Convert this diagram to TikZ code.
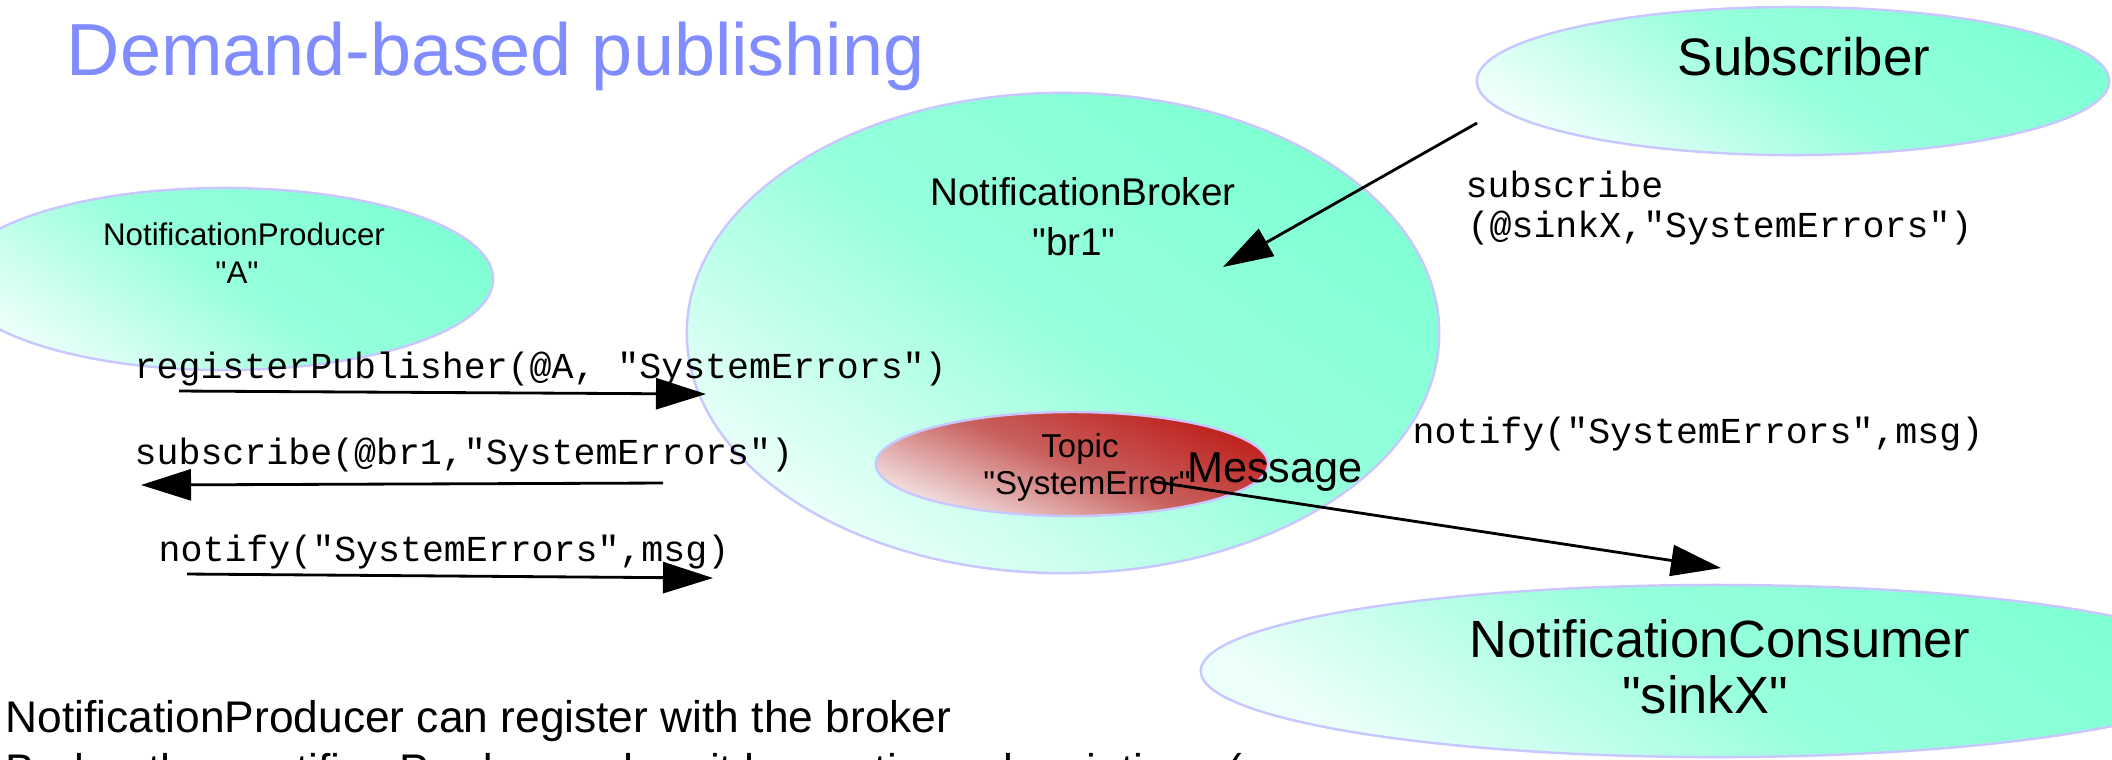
\documentclass[tikz,border=0pt]{standalone}
\usepackage{fontspec}
\setmainfont{Liberation Sans}[Ligatures=TeXOff]
\setmonofont{Liberation Mono}
\usetikzlibrary{positioning, shapes.geometric, arrows.meta}

\definecolor{aqua}{RGB}{127,255,212}
\definecolor{aquapale}{RGB}{236,255,250}
\definecolor{rimblue}{RGB}{200,200,255}
\definecolor{topicred}{RGB}{190,30,26}
\definecolor{topicmid}{RGB}{200,96,94}
\definecolor{topicpale}{RGB}{244,230,230}
\definecolor{titleblue}{RGB}{128,140,255}

\tikzset{
  blob/.style={ellipse, draw=rimblue, line width=0.7pt, inner sep=0pt,
    top color=aqua, bottom color=aquapale, middle color=aqua!78!aquapale,
    shading angle=-35},
  topicblob/.style={blob, top color=topicred, bottom color=topicpale,
    middle color=topicmid, shading angle=-22},
  lbl/.style={anchor=base, inner sep=0pt},
  call/.style={anchor=base west, inner sep=0pt,
    font=\ttfamily\fontsize{10.4}{12}\selectfont},
  rpc/.style={-{Triangle[length=0.5cm, width=0.31cm]}, line width=0.8pt},
}

\begin{document}
\begin{tikzpicture}[x=0.01cm, y=-0.01cm]
    \useasboundingbox (0,0) rectangle (2112,759);
    \clip (0,0) rectangle (2112,759);

    % the parties
    \node[blob, minimum width=5.38cm, minimum height=1.82cm] (producer) at (224,279) {};
    \node[blob, minimum width=7.52cm, minimum height=4.80cm] (broker) at (1063,333) {};
    \node[topicblob, minimum width=3.92cm, minimum height=1.04cm] (topic) at (1072,464) {};
    \node[blob, minimum width=6.32cm, minimum height=1.48cm] (subscriber) at (1793,81) {};
    \node[blob, minimum width=10.30cm, minimum height=1.72cm] (consumer) at (1716,671) {};

    \node[anchor=base west, inner sep=0pt, text=titleblue,
          font=\fontsize{21}{25}\selectfont] (title) at (66,75) {Demand-based publishing};

    % names inside the ellipses
    \node[lbl, font=\fontsize{8.9}{10}\selectfont] (prodname) at (244,245) {NotificationProducer};
    \node[lbl, font=\fontsize{8.9}{10}\selectfont] (prodid) at (237,283) {"A"};
    \node[lbl, font=\fontsize{11}{13}\selectfont] (brokername) at (1083,205) {NotificationBroker};
    \node[lbl, font=\fontsize{11}{13}\selectfont] (brokerid) at (1074,255) {"br1"};
    \node[lbl, font=\fontsize{9.4}{11}\selectfont] (topicname) at (1080,457) {Topic};
    \node[lbl, font=\fontsize{9.4}{11}\selectfont] (topicid) at (1087,494) {"SystemError"};
    \node[lbl, font=\fontsize{15}{17}\selectfont] (subname) at (1804,75) {Subscriber};
    \node[lbl, font=\fontsize{14.9}{17}\selectfont] (consname) at (1720,657) {NotificationConsumer};
    \node[lbl, font=\fontsize{14.9}{17}\selectfont] (consid) at (1705,713) {"sinkX"};

    % calls
    \node[call] (regcall) at (134,378) {registerPublisher(@A, "SystemErrors")};
    \node[call] (subcall) at (134,464) {subscribe(@br1,"SystemErrors")};
    \node[call] (notcall) at (158,561) {notify("SystemErrors",msg)};
    \node[call] (extsub) at (1465,197) {subscribe};
    \node[call] (extsubargs) at (1467,237) {(@sinkX,"SystemErrors")};
    \node[call] (extnot) at (1412,443) {notify("SystemErrors",msg)};

    \coordinate (regfrom) at (179,391);
    \coordinate (regto) at (706,394);
    \coordinate (subfrom) at (663,483);
    \coordinate (subto) at (141,485);
    \coordinate (notfrom) at (187,574);
    \coordinate (notto) at (713,578);
    \coordinate (extfrom) at (1477,123);
    \coordinate (extto) at (1223,267);
    \coordinate (msgfrom) at (1150,481);
    \coordinate (msgto) at (1721,568);

    \draw[rpc] (regfrom) -- (regto);
    \draw[rpc] (subfrom) -- (subto);
    \draw[rpc] (notfrom) -- (notto);
    \draw[rpc] (extfrom) -- (extto);
    \draw[rpc] (msgfrom) -- (msgto);

    \node[lbl, font=\fontsize{12.3}{14}\selectfont] (message) at (1275,482) {Message};

    % notes underneath
    \node[anchor=base west, inner sep=0pt, font=\fontsize{12.6}{15}\selectfont]
        (note1) at (5,732) {NotificationProducer can register with the broker};
    \node[anchor=base west, inner sep=0pt, font=\fontsize{12.6}{15}\selectfont]
        (note2) at (5,785) {Broker then notifies Producer when it has active subscriptions (};
\end{tikzpicture}
\end{document}
